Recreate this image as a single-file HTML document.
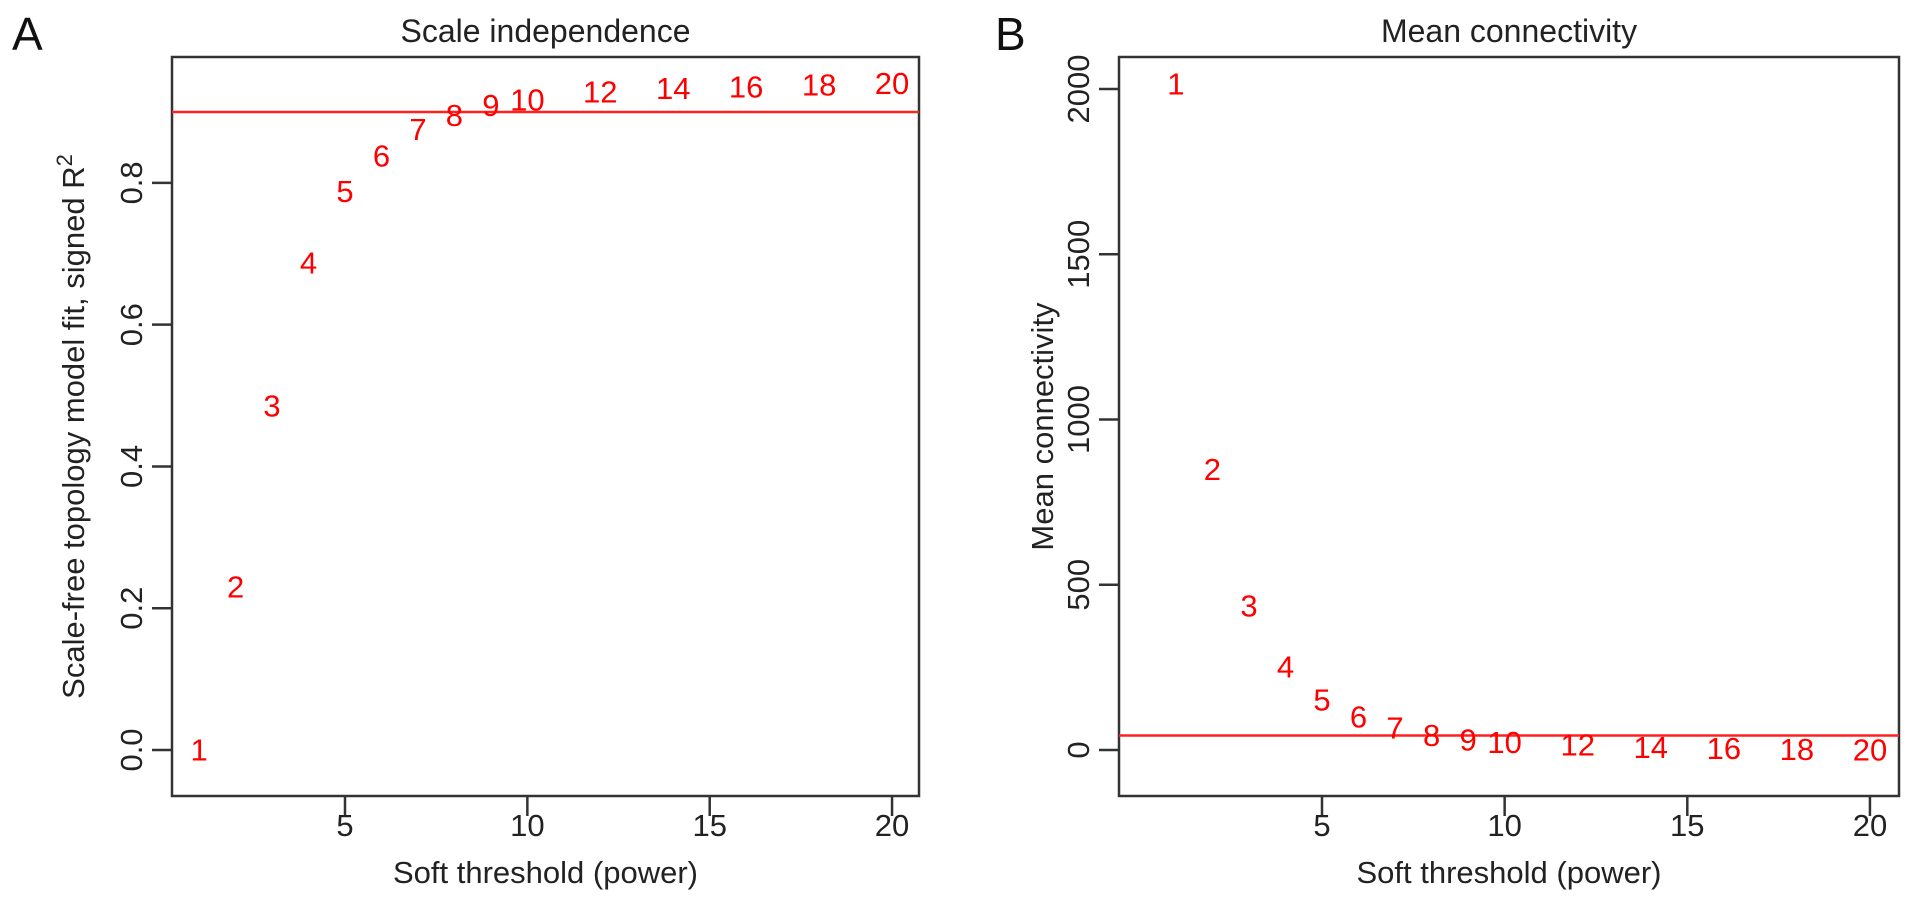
<!DOCTYPE html>
<html><head><meta charset="utf-8">
<style>
html,body{margin:0;padding:0;background:#fff;}
svg{display:block;font-family:"Liberation Sans",Arial,sans-serif;}
</style></head>
<body>
<svg id="fig" width="1913" height="898" viewBox="0 0 1913 898" xmlns="http://www.w3.org/2000/svg">
<text x="12" y="50" font-size="46" fill="#111">A</text>
<text x="995" y="50" font-size="46" fill="#111">B</text>
</svg>
<script>
const powers = [1,2,3,4,5,6,7,8,9,10,12,14,16,18,20];
const r2Values = [0.0,0.23,0.485,0.687,0.788,0.838,0.875,0.895,0.909,0.917,0.928,0.933,0.935,0.938,0.94];
const meanK = [2015,849,435,251,151,100,66,44,30,22,15,8,4,2,0];
const xTicks = [5,10,15,20];
const r2Ticks = [0.0,0.2,0.4,0.6,0.8];
const r2TickLabels = ["0.0","0.2","0.4","0.6","0.8"];
const kTicks = [0,500,1000,1500,2000];
const kTickLabels = ["0","500","1000","1500","2000"];
const r2Cutoff = 0.9;
const kCutoff = 44;

const NS = "http://www.w3.org/2000/svg";
const svg = document.getElementById('fig');
function mk(tag, attrs, parent){
  const e = document.createElementNS(NS, tag);
  for (const k in attrs) e.setAttribute(k, attrs[k]);
  (parent||svg).appendChild(e);
  return e;
}

function panel(cfg){
  const g = mk('g', {});
  
  
  const X = v => cfg.x5 + (v - 5) * cfg.xppu;
  const Y = v => cfg.y0px - v * cfg.ppu;
  const box = mk('rect', {x:cfg.left, y:cfg.top, width:cfg.right-cfg.left, height:cfg.bottom-cfg.top, fill:'none', stroke:'#333', 'stroke-width':2.5}, g);
  
  
  xTicks.forEach(t => {
    const l = mk('line', {x1:X(t), x2:X(t), y1:cfg.bottom, y2:cfg.bottom+20, stroke:'#333', 'stroke-width':2.5}, g);
    
    
    const tx = mk('text', {x:X(t), y:836, 'font-size':31, fill:'#222', 'text-anchor':'middle'}, g);
    tx.textContent = t;
    
    
  });
  cfg.yTicks.forEach((t, i) => {
    const y = Y(t);
    const l = mk('line', {x1:cfg.left-20, x2:cfg.left, y1:y, y2:y, stroke:'#333', 'stroke-width':2.5}, g);
    
    
    const tx = mk('text', {x:0, y:0, 'font-size':31, fill:'#222', 'text-anchor':'middle', transform:`translate(${cfg.left-30},${y}) rotate(-90)`}, g);
    tx.textContent = cfg.yTickLabels[i];
    
    
  });
  const cl = mk('line', {x1:cfg.left, x2:cfg.right, y1:Y(cfg.cutoff), y2:Y(cfg.cutoff), stroke:'#ff2020', 'stroke-width':2.5}, g);
  
  
  powers.forEach((p, i) => {
    const tx = mk('text', {x:X(p), y:Y(cfg.values[i]), 'font-size':31, fill:'#ff0000', 'text-anchor':'middle', 'dominant-baseline':'central'}, g);
    tx.textContent = p;
    
    
  });
  const ti = mk('text', {x:(cfg.left+cfg.right)/2, y:42, 'font-size':32, fill:'#222', 'text-anchor':'middle'}, g);
  ti.textContent = cfg.title;
  
  
  const xt = mk('text', {x:(cfg.left+cfg.right)/2, y:883, 'font-size':31, fill:'#222', 'text-anchor':'middle'}, g);
  xt.textContent = 'Soft threshold (power)';
  
  
  const yt = mk('text', {x:0, y:0, 'font-size':31, fill:'#222', 'text-anchor':'middle', transform:`translate(${cfg.ytx},${(cfg.top+cfg.bottom)/2}) rotate(-90)`}, g);
  
  
  if (cfg.sup){
    yt.appendChild(document.createTextNode(cfg.ytitle));
    const s = mk('tspan', {'font-size':22, dy:-12}, yt);
    s.textContent = '2';
  } else {
    yt.textContent = cfg.ytitle;
  }
}

panel({name:'scale-independence-panel', left:172, right:919, top:57, bottom:796,
  x5:345, xppu:36.47,
  y0px:750, ppu:(750-112)/0.9, yTicks:r2Ticks, yTickLabels:r2TickLabels,
  cutoff:r2Cutoff, values:r2Values, title:'Scale independence',
  ytitle:'Scale-free topology model fit, signed R', sup:true, ytx:84});
panel({name:'mean-connectivity-panel', left:1119, right:1899, top:57, bottom:796,
  x5:1322, xppu:36.53,
  y0px:750, ppu:(750-89)/2000, yTicks:kTicks, yTickLabels:kTickLabels,
  cutoff:kCutoff, values:meanK, title:'Mean connectivity',
  ytitle:'Mean connectivity', sup:false, ytx:1053});
</script>
</body></html>
